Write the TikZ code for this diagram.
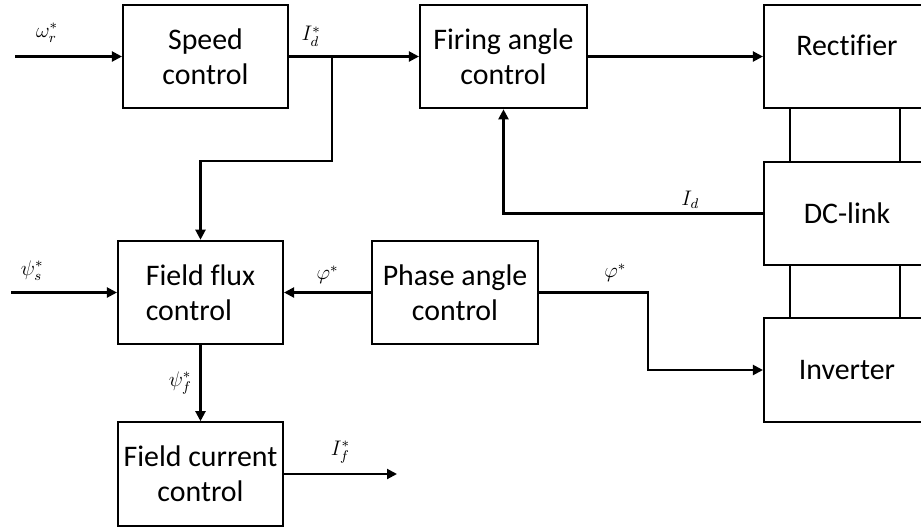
\documentclass[tikz,border=0pt]{standalone}
\usepackage{fontspec}
\setmainfont{Carlito}[Ligatures=NoCommon]
\usetikzlibrary{arrows.meta,calc}

\begin{document}
\begin{tikzpicture}[
    x=0.02cm, y=-0.02cm,
    font=\fontsize{17}{20}\selectfont,
    block/.style={draw, line width=1.2pt, inner sep=0pt, minimum width=3.3cm, minimum height=2.07cm, align=center},
    sig/.style={font=\fontsize{12}{14}\selectfont},
    arrow/.style={-{Triangle[length=2mm, width=2mm]}, line width=1.2pt},
    link/.style={line width=1.2pt}
]
    \path[use as bounding box, clip] (0,0) rectangle (921,529);

    % Nodes
    \node[block] (speed) at (205.5,56.5) {Speed\\control};
    \node[block, minimum width=3.34cm] (firing) at (503.5,56.5) {Firing angle\\control};
    \node[block, minimum width=3.32cm, text depth=0.45cm] (rect) at (847,56.5) {Rectifier};
    \node[block, minimum width=3.32cm] (dclink) at (847,213.5) {DC-link};
    \node[block, minimum width=3.32cm] (inv) at (847,370) {Inverter};
    \node[block, align=left] (flux) at (200.5,292.5) {Field flux\\control};
    \node[block, minimum width=3.32cm] (phase) at (455,292.5) {Phase angle\\control};
    \node[block] (current) at (200.5,474) {Field current\\control};

    \coordinate (wref) at (15,56.5);
    \coordinate (psiref) at (11,292.5);
    \coordinate (split) at (332,56.5);
    \coordinate (ifout) at (397,474);

    % Links
    \draw[arrow] (wref) -- node[sig, pos=0.3, above=4pt] {$\omega_r^*$} (speed.west);
    \draw[arrow] (speed.east) -- node[sig, pos=0.17, above=2pt] {$I_d^*$} (firing.west);
    \draw[arrow] (split) -- ++(0,104.5) -| (flux.north);
    \draw[arrow] (firing.east) -- (rect.west);
    \draw[link] ($(rect.south west)+(27,0)$) -- ($(dclink.north west)+(27,0)$);
    \draw[link] ($(rect.south east)+(-31,0)$) -- ($(dclink.north east)+(-31,0)$);
    \draw[link] ($(dclink.south west)+(27,0)$) -- ($(inv.north west)+(27,0)$);
    \draw[link] ($(dclink.south east)+(-31,0)$) -- ($(inv.north east)+(-31,0)$);
    \draw[arrow] (dclink.west) -| node[sig, pos=0.14, above=-1pt] {$I_d$} (firing.south);
    \draw[arrow] (psiref) -- node[sig, pos=0.2, above=3pt] {$\psi_s^*$} (flux.west);
    \draw[arrow] (phase.west) -- node[sig, above=1pt] {$\varphi^*$} (flux.east);
    \draw[arrow] (phase.east) -- node[sig, pos=0.7, above=2pt] {$\varphi^*$} ++(109,0) |- (inv.west);
    \draw[arrow] (flux.south) -- node[sig, left=1pt] {$\psi_f^*$} (current.north);
    \draw[arrow] (current.east) -- node[sig, above=2pt] {$I_f^*$} (ifout);
\end{tikzpicture}
\end{document}
